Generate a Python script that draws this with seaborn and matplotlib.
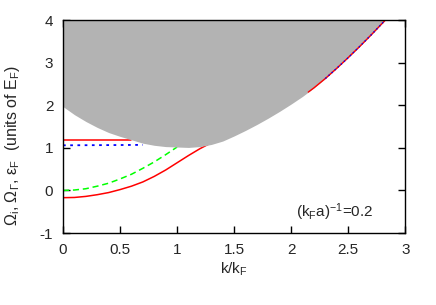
import matplotlib
matplotlib.use("Agg")
import numpy as np
import seaborn as sns
import matplotlib.pyplot as plt

# continuum edge (gray region lies above it)
k_cont = [0, 0.1, 0.2, 0.3, 0.4, 0.5, 0.6, 0.7, 0.8, 0.9, 1.0, 1.1, 1.2, 1.3, 1.4, 1.5,
          1.6, 1.7, 1.8, 1.9, 2.0, 2.1, 2.2, 2.3, 2.4, 2.5, 2.6, 2.7, 2.8, 2.9, 3.0]
e_cont = [1.97, 1.78, 1.62, 1.48, 1.36, 1.27, 1.19, 1.11, 1.06, 1.03, 1.02, 1.01, 1.03, 1.08,
          1.16, 1.28, 1.41, 1.55, 1.70, 1.86, 2.03, 2.21, 2.41, 2.63, 2.87, 3.12, 3.38, 3.65,
          3.93, 4.22, 4.5]

# upper red branch (low k part and high k part along the edge)
k_red_up = [0, 0.3, 0.6]
e_red_up = [1.18, 1.18, 1.18]
k_red_hi = [2.15, 2.2, 2.3, 2.4, 2.5, 2.6, 2.7, 2.8, 2.85]
e_red_hi = [2.31, 2.41, 2.63, 2.87, 3.12, 3.38, 3.65, 3.93, 4.07]

# blue dotted branch
k_blue = [0, 0.4, 0.7]
e_blue = [1.06, 1.065, 1.07]
k_blue_hi = [2.3, 2.4, 2.5, 2.6, 2.7, 2.8, 2.85]
e_blue_hi = [2.63, 2.87, 3.12, 3.38, 3.65, 3.93, 4.07]

# green dashed branch
k_green = [0, 0.1, 0.2, 0.3, 0.4, 0.5, 0.6, 0.7, 0.8, 0.9, 1.0]
e_green = [0, 0.01, 0.04, 0.10, 0.17, 0.27, 0.38, 0.52, 0.67, 0.84, 1.02]

# lower red branch
k_red_lo = [0, 0.1, 0.2, 0.3, 0.4, 0.5, 0.6, 0.7, 0.8, 0.9, 1.0, 1.1, 1.2, 1.3]
e_red_lo = [-0.17, -0.165, -0.14, -0.10, -0.05, 0.02, 0.10, 0.20, 0.33, 0.48, 0.65, 0.82,
            0.98, 1.12]

sns.set_style("ticks")
plt.rcParams["font.family"] = ["Liberation Sans", "DejaVu Sans"]
plt.rcParams["mathtext.fontset"] = "custom"
plt.rcParams["mathtext.rm"] = "Liberation Sans"
plt.rcParams["mathtext.it"] = "Liberation Sans"
plt.rcParams["mathtext.default"] = "regular"
plt.rcParams["axes.unicode_minus"] = False

fig = plt.figure(figsize=(4.36, 3.05), dpi=100)
ax = fig.add_axes([0.1445, 0.236, 0.785, 0.698])

# curves underneath the continuum
sns.lineplot(x=k_red_up, y=e_red_up, ax=ax, color="#ff0000", lw=1.1, zorder=2)
sns.lineplot(x=k_blue, y=e_blue, ax=ax, color="#0000ff", lw=1.3, zorder=2,
             linestyle=(0, (1.5, 2.5)))
sns.lineplot(x=k_green, y=e_green, ax=ax, color="#00ff00", lw=1.1, zorder=2,
             linestyle=(0, (4, 2.5)))
sns.lineplot(x=k_red_lo, y=e_red_lo, ax=ax, color="#ff0000", lw=1.1, zorder=2)

ax.fill_between(k_cont, e_cont, 5, color="#b3b3b3", lw=0, zorder=2.2)

# parts running along the edge of the continuum
sns.lineplot(x=k_red_hi, y=e_red_hi, ax=ax, color="#ff0000", lw=1.0, zorder=3)
sns.lineplot(x=k_blue_hi, y=e_blue_hi, ax=ax, color="#0000ff", lw=1.0, zorder=3,
             linestyle=(0, (1, 2)))

ax.set_xlim(0, 3)
ax.set_ylim(-1, 4)
ax.set_xticks([0, 0.5, 1, 1.5, 2, 2.5, 3])
ax.set_xticklabels(["0", "0.5", "1", "1.5", "2", "2.5", "3"])
ax.set_yticks([-1, 0, 1, 2, 3, 4])
ax.tick_params(direction="in", length=5, width=1, top=True, right=True,
               labelsize=11, pad=7, color="black")
for s in ax.spines.values():
    s.set_linewidth(1.0)
    s.set_color("black")
    s.set_zorder(4)

ax.set_xlabel(r"k/k$_F$", fontsize=11, labelpad=3)
ax.set_ylabel(r"$\Omega_i$, $\Omega_\Gamma$, $\varepsilon_F$  (units of E$_F$)",
              fontsize=11.5)
ax.yaxis.set_label_coords(-0.12, 0.41)
ax.text(2.72, -0.52, r"(k$_F$a)$^{-1}$=0.2", ha="right", va="center", fontsize=11)

fig.savefig("out.png", dpi=100)
